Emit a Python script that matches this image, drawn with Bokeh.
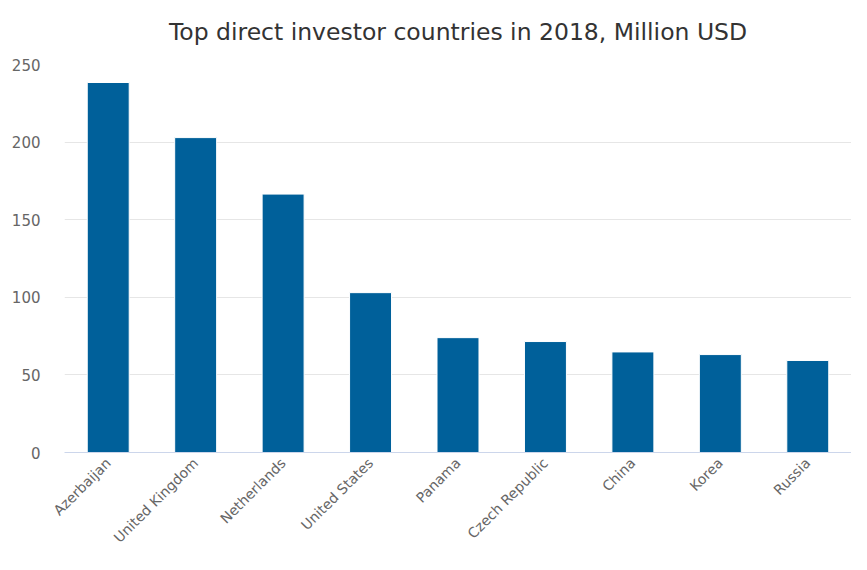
import math
from bokeh.plotting import figure
from bokeh.models import Range1d, FixedTicker
from bokeh.embed import file_html
from bokeh.resources import INLINE

title_text = "Top direct investor countries in 2018, Million USD"
countries = ["Azerbaijan", "United Kingdom", "Netherlands", "United States",
             "Panama", "Czech Republic", "China", "Korea", "Russia"]
values = [238.4, 202.9, 166.5, 103.0, 74.0, 71.5, 64.8, 63.1, 59.3]
y_ticks = [0, 50, 100, 150, 200, 250]

p = figure(x_range=countries, y_range=Range1d(0, 250),
           width=851, height=554, output_backend="svg", toolbar_location=None,
           min_border_left=64, min_border_right=0, min_border_top=64, min_border_bottom=90)

p.vbar(x=countries, top=values, width=0.48, fill_color="#00609a",
       line_color="white", line_width=1)

p.title.text = title_text
p.title.align = "center"
p.title.vertical_align = "top"
p.title.text_font = "DejaVu Sans"
p.title.text_font_size = "23.5px"
p.title.text_font_style = "normal"
p.title.text_color = "#333333"
p.title.standoff = 34

p.outline_line_color = None
p.background_fill_color = "white"
p.border_fill_color = "white"

p.xgrid.grid_line_color = None
p.ygrid.grid_line_color = "#e6e6e6"
p.ygrid.grid_line_width = 1

p.yaxis.ticker = FixedTicker(ticks=y_ticks)
p.yaxis.axis_line_color = None
p.yaxis.major_tick_line_color = None
p.yaxis.minor_tick_line_color = None
p.yaxis.major_label_text_font = "DejaVu Sans"
p.yaxis.major_label_text_font_size = "15px"
p.yaxis.major_label_text_color = "#666666"
p.yaxis.major_label_standoff = 18

p.xaxis.axis_line_color = "#ccd6eb"
p.xaxis.axis_line_width = 1
p.xaxis.major_tick_line_color = None
p.xaxis.minor_tick_line_color = None
p.xaxis.major_label_orientation = math.pi / 4
p.xaxis.major_label_text_font = "DejaVu Sans"
p.xaxis.major_label_text_font_size = "14px"
p.xaxis.major_label_text_color = "#666666"
p.xaxis.major_label_standoff = 2

p.x_range.range_padding = 0
p.x_range.group_padding = 0

open("out.html", "w").write(file_html(p, INLINE))
